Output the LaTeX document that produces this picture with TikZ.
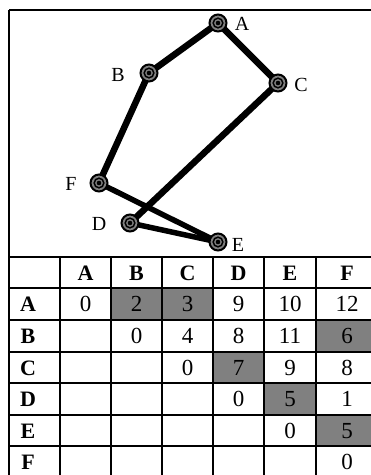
\documentclass[tikz,border=0pt]{standalone}
\usepackage{fontspec}
\setmainfont{Liberation Serif}
\begin{document}
\begin{tikzpicture}[x=1pt,y=-1pt,
  vert/.style={circle,draw=black,line width=2pt,fill=black!50,minimum size=17pt,inner sep=0pt},
  ring/.style={draw=black,line width=1.5pt},
  vlabel/.style={font=\fontsize{20}{20}\selectfont,inner sep=0pt},
  edge/.style={line width=6.5pt,black},
  grid/.style={line width=2pt,black},
  hd/.style={font=\fontsize{22}{22}\selectfont\bfseries,inner sep=0pt},
  num/.style={font=\fontsize{23}{23}\selectfont,inner sep=0pt},
  shade/.style={fill=black!50}]
\useasboundingbox (0,0) rectangle (371,475);
\begin{scope}
\clip (0,0) rectangle (371,475);
% graph frame
\draw[grid] (9,10) -- (400,10);
\draw[grid] (9,10) -- (9,500);
\draw[grid] (9,257) -- (400,257);
% edges
\coordinate (pA) at (218,23);
\coordinate (pB) at (149,73);
\coordinate (pC) at (278,83);
\coordinate (pF) at (99,183);
\coordinate (pD) at (130,223);
\coordinate (pE) at (218,242);
\draw[edge] (pA) -- (pB);
\draw[edge] (pA) -- (pC);
\draw[edge] (pB) -- (pF);
\draw[edge] (pC) -- (pD);
\draw[edge,line width=5.5pt] (pF) -- (pE);
\draw[edge,line width=5.5pt] (pD) -- (pE);
\node[vert] (A) at (pA) {};
\node[vert] (B) at (pB) {};
\node[vert] (C) at (pC) {};
\node[vert] (F) at (pF) {};
\node[vert] (D) at (pD) {};
\node[vert] (E) at (pE) {};
\foreach \n in {A,B,C,D,E,F} {
  \draw[ring] (\n.center) circle (4.8pt);
  \fill[black] (\n.center) circle (2.3pt);
}
\node[vlabel] (lA) at (242,24) {A};
\node[vlabel] (lB) at (118,75) {B};
\node[vlabel] (lC) at (301,85) {C};
\node[vlabel] (lF) at (71,184) {F};
\node[vlabel] (lD) at (99,224) {D};
\node[vlabel] (lE) at (238,245) {E};
% table shading
\fill[shade] (111,288) rectangle (213,320);
\fill[shade] (316,320) rectangle (380,352);
\fill[shade] (213,352) rectangle (264,383);
\fill[shade] (264,383) rectangle (316,415);
\fill[shade] (316,415) rectangle (380,446);
% table grid
\foreach \yy in {288,320,352,383,415,446} \draw[grid] (9,\yy) -- (400,\yy);
\foreach \xx in {60,111,162,213,264,316} \draw[grid] (\xx,257) -- (\xx,500);
% headers
\foreach \t/\xx in {A/85.5,B/136.5,C/187.5,D/238.5,E/290,F/347}
  \node[hd] (h\t) at (\xx,273) {\t};
\foreach \t/\yy in {A/304,B/336,C/368,D/399,E/431,F/462}
  \node[hd] (r\t) at (28,\yy) {\t};
% numbers
\foreach \v/\xx/\yy in {0/85.5/304,2/136.5/304,3/187.5/304,9/238.5/304,10/290/304,12/347/304,
  0/136.5/336,4/187.5/336,8/238.5/336,11/290/336,6/347/336,
  0/187.5/368,7/238.5/368,9/290/368,8/347/368,
  0/238.5/399,5/290/399,1/347/399,
  0/290/431,5/347/431,
  0/347/462}
  \node[num] at (\xx,\yy) {\v};
\end{scope}
\end{tikzpicture}
\end{document}
